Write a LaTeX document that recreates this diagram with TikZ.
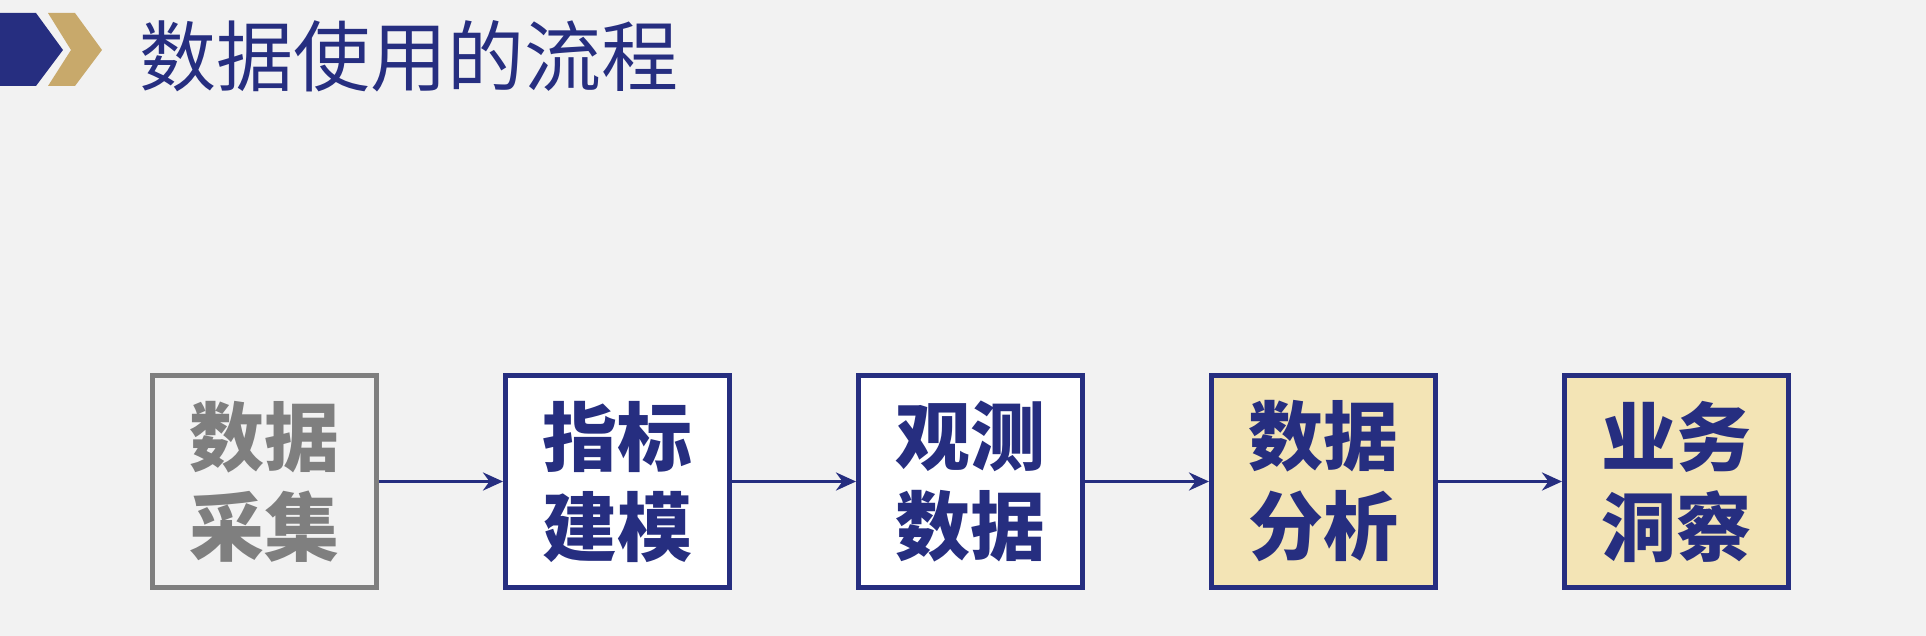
\documentclass[tikz,border=0pt]{standalone}
\usepackage{fontspec}
\newfontfamily\cjk{Noto Sans CJK SC Medium}[BoldFont={Noto Sans CJK SC Black}]
\newfontfamily\cjktitle{Noto Sans CJK SC}
\usetikzlibrary{arrows.meta}
\definecolor{navy}{HTML}{262E80}
\definecolor{gold}{HTML}{C8A96B}
\definecolor{goldfill}{HTML}{F3E4B5}
\definecolor{bg}{HTML}{F2F2F2}
\definecolor{greyline}{HTML}{7F7F7F}
\begin{document}
\begin{tikzpicture}[x=0.5pt,y=-0.5pt,
  box/.style={draw=navy, line width=2.5pt, minimum width=112pt, minimum height=106pt,
    inner sep=0pt, font=\cjk\bfseries\fontsize{37.5}{45}\selectfont, text=navy, align=center},
  greybox/.style={box, draw=greyline, text=greyline, fill=bg},
  whitebox/.style={box, fill=white},
  goldbox/.style={box, fill=goldfill},
  flow/.style={draw=navy, line width=1.8pt, -{Stealth[length=10pt,width=9pt]}}]
\fill[bg] (0,0) rectangle (1926,636);
\useasboundingbox (0,0) rectangle (1926,636);
\fill[navy] (0,13) -- (36,13) -- (63,50) -- (36,86) -- (0,86) -- cycle;
\fill[gold] (48,13) -- (75,13) -- (102,50) -- (75,86) -- (48,86) -- (71,50) -- cycle;
\node[anchor=west, text=navy, font=\cjktitle\fontsize{38.5}{40}\selectfont, inner sep=0pt] (title) at (139,56) {数据使用的流程};
\node[greybox] (b1) at (264.5,481.5) {数据\\采集};
\node[whitebox] (b2) at (617.5,481.5) {指标\\建模};
\node[whitebox] (b3) at (970.5,481.5) {观测\\数据};
\node[goldbox] (b4) at (1323.5,481.5) {数据\\分析};
\node[goldbox] (b5) at (1676.5,481.5) {业务\\洞察};
\draw[flow] (b1) -- (b2);
\draw[flow] (b2) -- (b3);
\draw[flow] (b3) -- (b4);
\draw[flow] (b4) -- (b5);
\end{tikzpicture}
\end{document}
